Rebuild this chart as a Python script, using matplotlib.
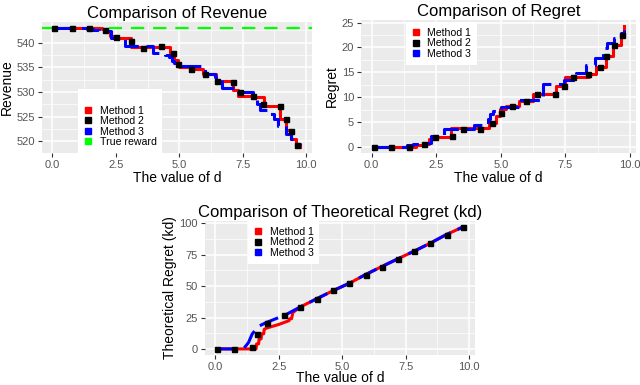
import numpy as np
import matplotlib
matplotlib.use('Agg')
import matplotlib.pyplot as plt
from matplotlib.lines import Line2D
from matplotlib.ticker import MultipleLocator

plt.rcParams['font.family'] = ['Liberation Sans', 'DejaVu Sans']

RED = '#FF0000'
BLUE = '#0000FF'
GREEN = '#00FF00'

# ---- Revenue panel ----
true_reward = 543
rev_m1_d = [0.07, 1.95, 2.1, 2.25, 2.5, 3.1, 4.62, 4.8, 4.93, 5.0, 5.45, 5.95, 6.45, 7.12, 7.3, 7.9,
            8.35, 8.97, 9.2, 9.4, 9.6, 9.75]
rev_m1 = [543, 542.7, 542.3, 541.4, 541.0, 539.2, 538.0, 536.4, 535.6, 535.1, 534.6, 533.7, 532.3, 530.3,
          529.1, 528.9, 527.2, 524.5, 522.3, 520.5, 519.3, 518.8]
rev_m2_d = [0.07, 0.75, 1.45, 2.08, 2.5, 3.1, 3.56, 4.29, 4.75, 4.95, 5.48, 6.0, 6.47, 7.12, 7.41, 7.91,
            8.31, 8.97, 9.21, 9.41, 9.63]
rev_m2 = [543, 543, 543, 542.5, 541.2, 540.3, 538.9, 539.3, 538.0, 535.6, 534.6, 533.7, 532.3, 532.1,
          529.9, 529.1, 527.6, 527.1, 524.5, 522.1, 519.2]
rev_m3_d = [0.07, 1.35, 1.6, 1.85, 2.3, 2.84, 3.95, 4.45, 4.6, 4.7, 4.8, 5.0, 6.0, 6.4, 6.7, 7.3, 7.9,
            8.05, 8.2, 8.55, 8.75, 8.9, 9.2, 9.4, 9.6, 9.75]
rev_m3 = [543, 542.8, 542.6, 542.3, 541.0, 539.4, 538.0, 537.6, 537.0, 536.3, 535.8, 535.2, 533.7, 533.0,
          530.7, 529.9, 529.0, 527.6, 526.3, 525.5, 524.5, 523.0, 521.4, 520.4, 519.5, 519.3]

# ---- Regret panel ----
reg_m1_d = [0.07, 1.7, 2.0, 2.2, 2.4, 3.08, 4.55, 4.82, 4.95, 5.2, 5.7, 6.25, 7.15, 7.48, 8.4, 8.7,
            9.08, 9.35, 9.65, 9.75]
reg_m1 = [0, 0.3, 0.6, 1.5, 2.0, 3.8, 4.8, 6.3, 7.6, 8.2, 9.2, 10.6, 12.3, 14.1, 14.6, 16.0, 18.3,
          20.4, 22.5, 24.3]
reg_m2_d = [0.07, 0.75, 1.46, 2.03, 2.47, 3.10, 3.52, 4.2, 4.67, 4.99, 5.44, 5.96, 6.4, 7.08, 7.46,
            7.81, 8.39, 8.83, 9.09, 9.38, 9.70]
reg_m2 = [0, 0, 0, 0.5, 2.0, 2.3, 3.7, 3.7, 4.8, 6.9, 8.3, 9.2, 10.6, 10.6, 12.3, 14.1, 14.6, 16.0,
          18.3, 20.4, 22.5]
reg_m3_d = [0.07, 1.35, 1.6, 1.85, 2.3, 2.8, 3.97, 4.35, 4.5, 4.6, 4.7, 5.0, 5.7, 6.65, 7.45, 7.9,
            8.3, 8.65, 8.95, 9.1, 9.4, 9.65, 9.75]
reg_m3 = [0, 0.3, 0.5, 0.7, 2.2, 3.7, 4.5, 5.0, 5.6, 6.6, 7.2, 8.0, 9.5, 12.6, 13.4, 14.8, 16.5, 17.8,
          19.9, 20.9, 21.9, 23.0, 23.5]

# ---- Theoretical regret (kd) panel ----
kd_m1_d = [0.07, 1.6, 1.62, 1.7, 1.72, 1.8, 1.82, 1.9, 1.92, 2.0, 2.5, 2.9, 2.92, 3.0, 3.05, 3.12,
           3.35, 4.0, 4.65, 5.3, 5.9, 6.55, 7.2, 7.85, 8.45, 9.1, 9.75]
kd_m1 = [0, 0, 4, 4, 8, 8, 12, 12, 15.5, 16.5, 19.5, 22.5, 24, 24, 29, 30, 33.5, 40, 46.5, 52.5, 59,
         65.5, 71.8, 78, 84, 91, 97]
kd_m2_d = [0.07, 0.72, 1.42, 1.62, 2.05, 2.7, 3.34, 3.99, 4.62, 5.27, 5.92, 6.55, 7.2, 7.84, 8.47,
           9.12, 9.75]
kd_m2 = [0, 0, 1.4, 12, 21, 27, 33.7, 40, 46.7, 52.5, 59, 65.5, 71.8, 78, 84, 91, 97]
kd_m3_d = [0.07, 1.1, 1.3, 1.45, 1.7, 2.0, 2.75, 3.35, 4.0, 4.65, 5.3, 5.9, 6.55, 7.2, 7.85, 8.45,
           9.1, 9.75]
kd_m3 = [0, 0, 5, 12, 18, 21, 27, 33.5, 40, 46.5, 52.5, 59, 65.5, 71.8, 78, 84, 91, 97]

methods = ['Method 1', 'Method 2', 'Method 3']


def gg_style(ax, xlim, ylim, ymaj, xpad=1):
    ax.set_facecolor('#EBEBEB')
    for s in ax.spines.values():
        s.set_visible(False)
    ax.set_xlim(*xlim)
    ax.set_ylim(*ylim)
    ax.xaxis.set_major_locator(MultipleLocator(2.5))
    ax.xaxis.set_minor_locator(MultipleLocator(1.25))
    ax.yaxis.set_major_locator(MultipleLocator(ymaj))
    ax.yaxis.set_minor_locator(MultipleLocator(ymaj / 2))
    ax.xaxis.set_major_formatter(lambda v, p: f'{v:.1f}')
    ax.grid(which='major', color='white', lw=1.1)
    ax.grid(which='minor', color='white', lw=0.5)
    ax.set_axisbelow(True)
    ax.tick_params(which='major', length=3, width=0.8, color='#333333', labelcolor='#555555',
                   labelsize=8, pad=2)
    ax.tick_params(which='minor', length=0)
    ax.set_xlabel('The value of d', fontsize=10, labelpad=xpad)


def expand(lo, hi):
    e = (hi - lo) * 0.05
    return lo - e, hi + e


def key_handles(labels, colors):
    return [Line2D([], [], marker='s', color=c, linestyle='None', markersize=4) for c in colors], labels


def white_legend(ax, h, l, **kw):
    lg = ax.legend(h, l, borderaxespad=0, fontsize=7.6, frameon=True, fancybox=False,
                   handlelength=0.8, handletextpad=0.7, labelspacing=0.05, borderpad=0.55, **kw)
    lg.get_frame().set_edgecolor('none')
    lg.get_frame().set_alpha(1)
    return lg


dash = (6.5, 2.5)
fig = plt.figure(figsize=(6.4, 3.85), dpi=100)

# Revenue
ax1 = fig.add_axes([42 / 640, 1 - 153 / 385, 270 / 640, 131 / 385])
ax1.axhline(true_reward, color=GREEN, lw=1.6, dashes=(6, 4))
ax1.plot(rev_m1_d, rev_m1, drawstyle='steps-post', color=RED, lw=2.2)
ax1.plot(rev_m3_d, rev_m3, drawstyle='steps-post', color=BLUE, lw=2.2, dashes=dash)
ax1.plot(rev_m2_d, rev_m2, 's', color='black', markersize=3.6)
gg_style(ax1, expand(0.07, 9.75), expand(518.8, 543), 5)
ax1.set_ylabel('Revenue', fontsize=10, labelpad=2)
ax1.set_title('Comparison of Revenue', fontsize=12, pad=3)
h, l = key_handles(methods + ['True reward'], [RED, 'black', BLUE, GREEN])
white_legend(ax1, h, l, loc='lower left', bbox_to_anchor=(0.133, 0.0), title=' ', title_fontsize=7)

# Regret
ax2 = fig.add_axes([361 / 640, 1 - 153 / 385, 275 / 640, 133 / 385])
ax2.plot(reg_m1_d, reg_m1, drawstyle='steps-post', color=RED, lw=2.2)
ax2.plot(reg_m3_d, reg_m3, drawstyle='steps-post', color=BLUE, lw=2.2, dashes=dash)
ax2.plot(reg_m2_d, reg_m2, 's', color='black', markersize=3.6)
gg_style(ax2, expand(0.07, 9.75), expand(0, 24.3), 5)
ax2.set_ylabel('Regret', fontsize=10, labelpad=2)
ax2.set_title('Comparison of Regret', fontsize=12, pad=3)
h, l = key_handles(methods, [RED, 'black', BLUE])
white_legend(ax2, h, l, loc='upper left', bbox_to_anchor=(0.163, 0.985))

# Theoretical regret
ax3 = fig.add_axes([205 / 640, 1 - 355 / 385, 270 / 640, 134 / 385])
ax3.plot(kd_m1_d, kd_m1, color=RED, lw=2.2)
ax3.plot(kd_m3_d, kd_m3, color=BLUE, lw=2.2, dashes=dash)
ax3.plot(kd_m2_d, kd_m2, 's', color='black', markersize=3.6)
gg_style(ax3, expand(0.07, 9.75), expand(0, 97), 25, xpad=-1)
ax3.set_ylabel('Theoretical Regret (kd)', fontsize=10, labelpad=2)
ax3.set_title('Comparison of Theoretical Regret (kd)', fontsize=12, pad=3)
h, l = key_handles(methods, [RED, 'black', BLUE])
white_legend(ax3, h, l, loc='upper left', bbox_to_anchor=(0.159, 1.0))

fig.savefig('out.png', dpi=100)
